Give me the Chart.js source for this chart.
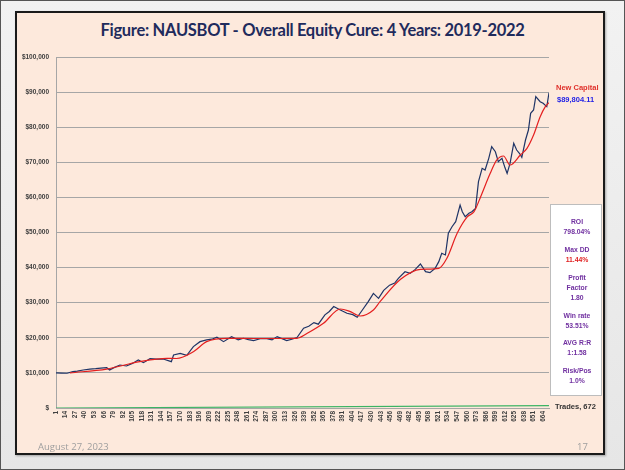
<!DOCTYPE html>
<html>
<head>
<meta charset="utf-8">
<script src="https://cdn.jsdelivr.net/npm/chart.js@4.4.0/dist/chart.umd.min.js"></script>
<style>
  html, body { margin:0; padding:0; }
  body { width:625px; height:470px; position:relative; overflow:hidden; background:#ebebeb; font-family:"Liberation Sans", Arial, sans-serif; }
  #frame { position:absolute; left:0; top:0; width:623px; height:468px; border:1px solid #555; background:linear-gradient(#f2f2f2,#e6e6e6); }
  #slide { position:absolute; left:15px; top:11px; width:586px; height:440px; border:2px solid #1a1a1a; background:#fde9dc; box-shadow:1px 1px 2px rgba(0,0,0,0.3); }
  #title { position:absolute; left:0; top:20px; width:625px; text-align:center; font-family:Lato, "Open Sans", sans-serif; font-weight:bold; font-size:16.5px; color:#1f2b5c; letter-spacing:-0.3px; }
  canvas { position:absolute; left:0; top:0; }
  .t { position:absolute; white-space:nowrap; font-weight:bold; }
  #stats { position:absolute; left:550px; top:204px; width:52px; height:192px; background:#ffffff; border:1px solid #bdbdbd; box-sizing:border-box; }
  .s { position:absolute; left:0; width:52px; text-align:center; font-size:6.8px; font-weight:bold; color:#7030a0; line-height:8px; }
  #date { position:absolute; left:38px; top:440px; font-size:9.5px; color:#9e9e9e; font-family:"Open Sans", sans-serif; }
  #page { position:absolute; left:577px; top:440px; font-size:9.5px; color:#9e9e9e; font-family:"Open Sans", sans-serif; }
</style>
</head>
<body>
<div id="frame"></div>
<div id="slide"></div>
<div id="title">Figure: NAUSBOT - Overall Equity Cure: 4 Years: 2019-2022</div>
<canvas id="c" width="625" height="470"></canvas>
<div class="t" style="left:556px;top:83px;font-size:7.5px;color:#e0302a;">New Capital</div>
<div class="t" style="left:557px;top:95px;font-size:7.5px;color:#2323e6;">$89,804.11</div>
<div class="t" style="left:555px;top:402px;font-size:7.5px;color:#333;">Trades, 672</div>
<div id="stats">
  <div class="s" style="top:13px">ROI</div>
  <div class="s" style="top:23px">798.04%</div>
  <div class="s" style="top:41px">Max DD</div>
  <div class="s" style="top:51px;color:#e02020">11.44%</div>
  <div class="s" style="top:69px">Profit</div>
  <div class="s" style="top:79px">Factor</div>
  <div class="s" style="top:89px">1.80</div>
  <div class="s" style="top:107px">Win rate</div>
  <div class="s" style="top:117px">53.51%</div>
  <div class="s" style="top:134px">AVG R:R</div>
  <div class="s" style="top:144px">1:1.58</div>
  <div class="s" style="top:162px">Risk/Pos</div>
  <div class="s" style="top:172px">1.0%</div>
</div>
<div id="date">August 27, 2023</div>
<div id="page">17</div>
<script>
// ---- data ----
const tickLabels = [1,14,27,40,53,66,79,92,105,118,131,144,157,170,183,196,209,222,235,248,261,274,287,300,313,326,339,352,365,378,391,404,417,430,443,456,469,482,495,508,521,534,547,560,573,586,599,612,625,638,651,664];

const equityTrades = [1,8,16,24,30,38,47,55,62,70,74,80,88,97,105,113,120,129,138,147,158,161,170,179,188,197,206,213,220,229,240,249,256,263,270,280,288,295,302,315,322,329,338,345,352,358,367,373,379,388,397,405,411,418,426,433,440,447,455,462,467,476,483,490,497,504,510,517,522,526,531,535,540,545,551,554,558,563,567,572,576,581,585,590,594,599,603,608,612,615,619,624,628,632,635,640,644,647,651,654,660,664,669,672];
const equityValues = [10000,9950,9900,10350,10500,10830,11100,11200,11350,11480,10830,11500,12250,11970,12700,13680,12910,14050,13900,13960,13200,15100,15580,15010,17480,18900,19390,19600,20150,18900,20330,19390,19860,19500,19200,19800,19770,19400,20340,19200,19600,20060,22720,23300,24340,23880,26530,27500,28900,27920,26980,26600,25840,27920,30290,32670,31250,33500,35000,35600,36950,38830,38360,39500,41030,38830,38550,39800,41700,44080,43600,49770,51650,53080,57830,55930,54500,55500,55930,56880,64470,68280,67800,71130,74440,73000,70180,71130,68500,66860,69710,75400,73500,72500,71400,76350,79200,83950,84900,88700,87270,86800,85850,89804];

const avgTrades = [20,70,115,152,165,188,206,234,271,329,343,365,388,400,415,433,442,470,497,522,533,547,561,570,579,592,601,610,619,633,642,651,660,667,672];
const avgValues = [10000,11100,13200,14160,14100,16050,18900,19860,19800,19860,21280,24130,28200,27600,26210,27920,30290,36670,39520,39800,42650,49770,54500,55930,60200,66860,70660,71800,69230,72080,73990,77780,83000,85850,86980];

const tradeCountTrades = [1,672];
const tradeCountValues = [1,672];

const pts = (xs, ys) => xs.map((x, i) => ({x: x, y: ys[i]}));

const tickFont = {family:"Liberation Sans", size:6.5, weight:"bold"};

new Chart(document.getElementById('c'), {
  type: 'line',
  data: {
    datasets: [
      {label:'Trades', data: pts(tradeCountTrades, tradeCountValues), borderColor:'#3cb464', borderWidth:1.2, pointRadius:0},
      {label:'Average', data: pts(avgTrades, avgValues), borderColor:'#e41f1f', borderWidth:1.2, pointRadius:0, cubicInterpolationMode:'monotone'},
      {label:'Equity', data: pts(equityTrades, equityValues), borderColor:'#1f3466', borderWidth:1.2, pointRadius:0}
    ]
  },
  options: {
    responsive:false,
    animation:false,
    layout:{padding:{left:0, right:76, top:57, bottom:0}},
    plugins:{legend:{display:false}, tooltip:{enabled:false}},
    scales:{
      x:{
        type:'linear', min:1, max:672,
        afterBuildTicks: s => { s.ticks = tickLabels.map(v => ({value:v})); },
        afterFit: s => { s.height = 62; },
        grid:{display:false, drawTicks:false},
        border:{display:true, color:'#a6a6a6', width:1},
        ticks:{autoSkip:false, minRotation:90, maxRotation:90, padding:3, color:'#404040', font:tickFont,
               callback: v => String(v)}
      },
      y:{
        min:0, max:100000,
        afterFit: s => { s.width = 56; },
        grid:{color:'#a6a6a6', lineWidth:1, drawTicks:false},
        border:{display:true, color:'#a6a6a6', width:1},
        ticks:{stepSize:10000, padding:7, color:'#404040', font:tickFont,
               callback: v => v === 0 ? '$' : '$' + v.toLocaleString('en-US')}
      }
    }
  }
});
</script>
</body>
</html>
